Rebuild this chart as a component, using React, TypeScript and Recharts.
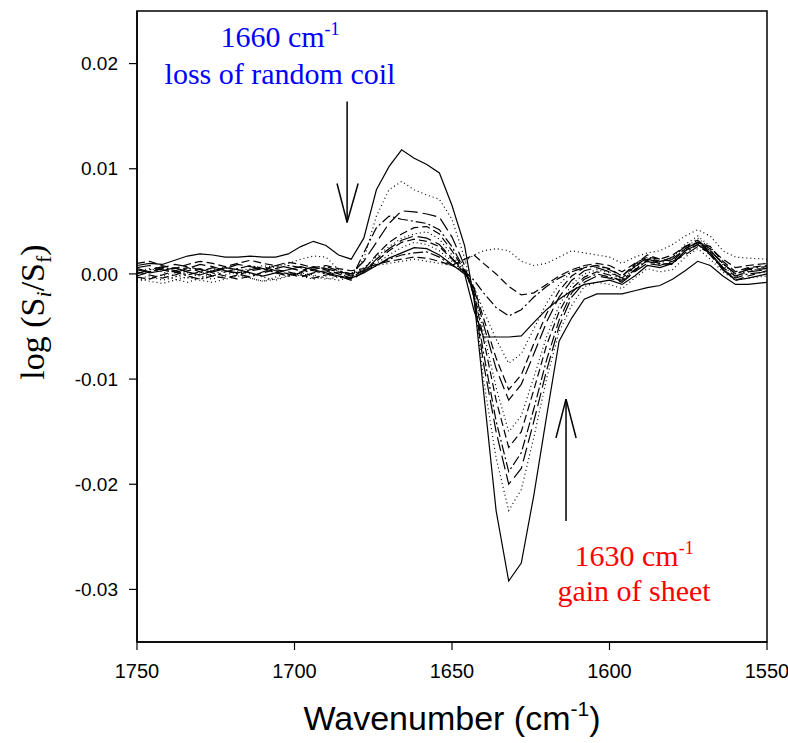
import React from 'react';
import { LineChart, Line, XAxis, YAxis, ReferenceLine, ReferenceArea, ReferenceDot } from 'recharts';

// Wavenumber grid (cm^-1)
const wavenumbers = [
  1750, 1746, 1742, 1738, 1734, 1730, 1726, 1722, 1718, 1714, 1710, 1706, 1702, 1698, 1694, 1690, 1686,
  1682, 1678, 1674, 1670, 1666, 1662, 1658, 1654, 1650, 1646, 1643, 1640, 1636, 1632, 1628, 1624, 1620,
  1616, 1612, 1608, 1604, 1600, 1596, 1592, 1588, 1584, 1580, 1576, 1572, 1568, 1564, 1560, 1556, 1550,
];

const xTicks = [1750, 1700, 1650, 1600, 1550];
const yTicks = [-0.03, -0.02, -0.01, 0, 0.01, 0.02];

const seriesA = [
  0.0008, 0.0010, 0.0009, 0.0013, 0.0017, 0.0019, 0.0018, 0.0016, 0.0016, 0.0017, 0.0016, 0.0016, 0.0019, 0.0026, 0.0031, 0.0027, 0.0018,
  0.0014, 0.0034, 0.0080, 0.0102, 0.0118, 0.0110, 0.0104, 0.0096, 0.0065, 0.0027, -0.0024, -0.0111, -0.0225, -0.0292, -0.0275, -0.0210, -0.0136,
  -0.0064, -0.0042, -0.0024, -0.0019, -0.0019, -0.0019, -0.0016, -0.0013, -0.0011, -0.0005, 0.0003, 0.0012, 0.0008, -0.0002, -0.0010, -0.0010, -0.0008,
];
const seriesB = [
  0.0003, 0.0005, 0.0002, -0.0002, -0.0004, 0.0000, 0.0004, 0.0006, 0.0003, 0.0005, 0.0008, 0.0006, 0.0010, 0.0014, 0.0017, 0.0016, 0.0004,
  -0.0002, 0.0014, 0.0055, 0.0080, 0.0088, 0.0080, 0.0075, 0.0071, 0.0052, 0.0015, -0.0020, -0.0100, -0.0175, -0.0225, -0.0205, -0.0155, -0.0100,
  -0.0055, -0.0030, -0.0012, -0.0008, -0.0010, -0.0014, -0.0004, 0.0005, 0.0002, 0.0004, 0.0016, 0.0024, 0.0014, 0.0002, -0.0006, -0.0004, -0.0002,
];
const seriesC = [
  0.0005, 0.0002, 0.0006, 0.0009, 0.0007, 0.0004, 0.0002, 0.0005, 0.0009, 0.0007, 0.0004, 0.0008, 0.0006, 0.0003, 0.0007, 0.0005, 0.0002,
  0.0000, 0.0012, 0.0030, 0.0048, 0.0060, 0.0059, 0.0057, 0.0054, 0.0035, 0.0008, -0.0022, -0.0085, -0.0150, -0.0200, -0.0185, -0.0140, -0.0092,
  -0.0050, -0.0022, -0.0008, -0.0002, -0.0004, -0.0008, 0.0002, 0.0010, 0.0008, 0.0012, 0.0018, 0.0026, 0.0020, 0.0006, -0.0002, 0.0002, 0.0004,
];
const seriesD = [
  0.0000, 0.0004, 0.0007, 0.0003, -0.0001, 0.0002, 0.0006, 0.0003, 0.0000, -0.0003, 0.0002, 0.0005, 0.0008, 0.0006, 0.0003, 0.0000, -0.0003,
  -0.0005, 0.0020, 0.0044, 0.0055, 0.0052, 0.0050, 0.0048, 0.0042, 0.0026, 0.0004, -0.0020, -0.0075, -0.0140, -0.0188, -0.0170, -0.0128, -0.0082,
  -0.0044, -0.0018, -0.0005, 0.0000, -0.0003, -0.0006, 0.0004, 0.0012, 0.0009, 0.0010, 0.0020, 0.0028, 0.0018, 0.0004, -0.0004, 0.0000, 0.0002,
];
const seriesE = [
  -0.0003, -0.0005, -0.0001, 0.0003, 0.0006, 0.0002, -0.0002, -0.0004, -0.0001, 0.0003, 0.0005, 0.0002, -0.0001, 0.0002, 0.0006, 0.0004, 0.0000,
  -0.0004, 0.0004, 0.0018, 0.0030, 0.0038, 0.0044, 0.0045, 0.0038, 0.0022, 0.0003, -0.0018, -0.0062, -0.0120, -0.0165, -0.0150, -0.0110, -0.0068,
  -0.0036, -0.0014, -0.0003, 0.0002, -0.0001, -0.0008, 0.0003, 0.0013, 0.0010, 0.0009, 0.0022, 0.0030, 0.0020, 0.0006, -0.0006, -0.0002, 0.0003,
];
const seriesF = [
  -0.0005, -0.0002, -0.0006, -0.0003, 0.0001, -0.0002, -0.0005, -0.0001, 0.0002, 0.0000, -0.0003, -0.0006, -0.0002, 0.0001, -0.0001, -0.0004, -0.0006,
  -0.0003, 0.0006, 0.0016, 0.0026, 0.0034, 0.0038, 0.0040, 0.0033, 0.0018, 0.0002, -0.0016, -0.0055, -0.0108, -0.0150, -0.0135, -0.0098, -0.0060,
  -0.0030, -0.0010, 0.0000, 0.0004, 0.0001, -0.0005, 0.0006, 0.0016, 0.0012, 0.0014, 0.0024, 0.0034, 0.0024, 0.0008, -0.0003, 0.0002, 0.0006,
];
const seriesG = [
  0.0006, 0.0008, 0.0004, 0.0001, 0.0005, 0.0009, 0.0007, 0.0003, 0.0001, 0.0004, 0.0007, 0.0003, 0.0000, -0.0003, 0.0001, 0.0003, -0.0002,
  -0.0006, 0.0002, 0.0014, 0.0024, 0.0032, 0.0036, 0.0034, 0.0028, 0.0015, 0.0002, -0.0014, -0.0048, -0.0090, -0.0120, -0.0105, -0.0076, -0.0046,
  -0.0022, -0.0006, 0.0003, 0.0006, 0.0002, -0.0004, 0.0007, 0.0014, 0.0011, 0.0016, 0.0026, 0.0032, 0.0022, 0.0010, 0.0000, 0.0004, 0.0005,
];
const seriesH = [
  0.0002, -0.0001, -0.0004, -0.0001, 0.0003, 0.0005, 0.0001, -0.0002, -0.0005, -0.0002, 0.0001, 0.0004, 0.0002, -0.0001, -0.0004, -0.0001, 0.0002,
  -0.0002, 0.0003, 0.0012, 0.0022, 0.0030, 0.0033, 0.0031, 0.0026, 0.0014, 0.0001, -0.0013, -0.0042, -0.0080, -0.0110, -0.0096, -0.0066, -0.0038,
  -0.0016, -0.0002, 0.0006, 0.0008, 0.0005, -0.0002, 0.0009, 0.0018, 0.0014, 0.0012, 0.0024, 0.0030, 0.0026, 0.0012, 0.0002, 0.0006, 0.0008,
];
const seriesI = [
  -0.0007, -0.0004, -0.0001, -0.0005, -0.0008, -0.0004, 0.0000, 0.0003, 0.0000, -0.0004, -0.0007, -0.0003, 0.0001, -0.0002, -0.0005, -0.0002, 0.0001,
  -0.0001, 0.0004, 0.0010, 0.0018, 0.0025, 0.0030, 0.0028, 0.0022, 0.0012, 0.0001, -0.0012, -0.0035, -0.0062, -0.0085, -0.0076, -0.0052, -0.0028,
  -0.0010, 0.0002, 0.0008, 0.0006, 0.0002, -0.0006, 0.0004, 0.0014, 0.0010, 0.0015, 0.0028, 0.0036, 0.0026, 0.0010, -0.0002, 0.0003, 0.0006,
];
const seriesJ = [
  0.0004, 0.0001, 0.0003, 0.0006, 0.0002, -0.0001, 0.0003, 0.0006, 0.0004, 0.0001, -0.0002, 0.0001, 0.0004, 0.0007, 0.0004, 0.0001, -0.0002,
  -0.0004, 0.0001, 0.0008, 0.0015, 0.0020, 0.0025, 0.0024, 0.0018, 0.0009, 0.0000, -0.0035, -0.0060, -0.0060, -0.0060, -0.0059, -0.0046, -0.0034,
  -0.0024, -0.0016, -0.0010, -0.0008, -0.0006, -0.0010, -0.0002, 0.0008, 0.0006, 0.0010, 0.0022, 0.0028, 0.0020, 0.0004, -0.0006, -0.0004, 0.0000,
];
const seriesK = [
  -0.0002, 0.0002, 0.0005, 0.0002, -0.0002, -0.0005, -0.0002, 0.0002, 0.0005, 0.0008, 0.0005, 0.0001, -0.0002, 0.0001, 0.0004, 0.0007, 0.0003,
  0.0000, 0.0003, 0.0008, 0.0014, 0.0018, 0.0020, 0.0021, 0.0016, 0.0008, 0.0002, -0.0006, -0.0018, -0.0032, -0.0040, -0.0034, -0.0022, -0.0012,
  -0.0004, 0.0002, 0.0006, 0.0008, 0.0004, -0.0002, 0.0008, 0.0015, 0.0012, 0.0014, 0.0024, 0.0030, 0.0022, 0.0010, 0.0000, 0.0005, 0.0007,
];
const seriesL = [
  0.0010, 0.0012, 0.0008, 0.0005, 0.0009, 0.0012, 0.0010, 0.0007, 0.0010, 0.0013, 0.0010, 0.0008, 0.0011, 0.0009, 0.0006, 0.0008, 0.0005,
  0.0003, 0.0005, 0.0009, 0.0012, 0.0014, 0.0016, 0.0015, 0.0012, 0.0008, 0.0014, 0.0018, 0.0010, 0.0000, -0.0012, -0.0020, -0.0018, -0.0010,
  -0.0002, 0.0004, 0.0008, 0.0010, 0.0008, 0.0002, 0.0010, 0.0016, 0.0014, 0.0018, 0.0026, 0.0030, 0.0024, 0.0014, 0.0006, 0.0008, 0.0010,
];
const seriesM = [
  -0.0004, -0.0007, -0.0009, -0.0006, -0.0003, -0.0006, -0.0008, -0.0005, -0.0002, -0.0004, -0.0007, -0.0005, -0.0002, 0.0000, -0.0002, -0.0005, -0.0003,
  0.0000, 0.0004, 0.0008, 0.0010, 0.0012, 0.0014, 0.0012, 0.0010, 0.0008, 0.0012, 0.0018, 0.0022, 0.0024, 0.0022, 0.0012, 0.0008, 0.0010,
  0.0016, 0.0022, 0.0020, 0.0018, 0.0016, 0.0010, 0.0016, 0.0020, 0.0022, 0.0028, 0.0036, 0.0042, 0.0036, 0.0022, 0.0016, 0.0015, 0.0014,
];

const seriesList = [
  { key: 'A', values: seriesA, dash: undefined },
  { key: 'B', values: seriesB, dash: '1 3' },
  { key: 'C', values: seriesC, dash: '14 5' },
  { key: 'D', values: seriesD, dash: '10 3 2 3' },
  { key: 'E', values: seriesE, dash: '8 4' },
  { key: 'F', values: seriesF, dash: '1 3' },
  { key: 'G', values: seriesG, dash: '14 5' },
  { key: 'H', values: seriesH, dash: '8 4' },
  { key: 'I', values: seriesI, dash: '1 3' },
  { key: 'J', values: seriesJ, dash: undefined },
  { key: 'K', values: seriesK, dash: '10 3 2 3' },
  { key: 'L', values: seriesL, dash: '8 4' },
  { key: 'M', values: seriesM, dash: '1 3' },
];

const data = wavenumbers.map((wn, i) => {
  const row: Record<string, number> = { wn };
  seriesList.forEach((s) => {
    row[s.key] = s.values[i];
  });
  return row;
});

// Annotation anchors (data coordinates)
const arrowDown = { x: 1683.3, yFrom: 0.0164, yTo: 0.0049, armL: 1686.5, armR: 1679.8, armY: 0.0086 };
const arrowUp = { x: 1613.8, yFrom: -0.0235, yTo: -0.0119, armL: 1617.0, armR: 1610.6, armY: -0.0156 };
const blueLines = [
  { x: 1704.6, y: 0.0216, text: '1660 cm', sup: '-1' },
  { x: 1704.6, y: 0.0181, text: 'loss of random coil', sup: '' },
];
const redLines = [
  { x: 1592.2, y: -0.0278, text: '1630 cm', sup: '-1' },
  { x: 1592.2, y: -0.0311, text: 'gain of sheet', sup: '' },
];

const SERIF = '"Liberation Serif", "Times New Roman", serif';
const SANS = '"Liberation Sans", Arial, sans-serif';

const makeTextShape = (text: string, sup: string, color: string) => (props: any) => (
  <text x={props.cx} y={props.cy} textAnchor="middle" fontFamily={SERIF} fontSize={30} fill={color}>
    {text}
    {sup ? (
      <tspan dy={-12} fontSize={18}>
        {sup}
      </tspan>
    ) : null}
  </text>
);

const XTitle = () => (
  <text x={452} y={730} textAnchor="middle" fontFamily={SANS} fontSize={34} fill="#000">
    Wavenumber (cm
    <tspan dy={-14} fontSize={21}>
      -1
    </tspan>
    <tspan dy={14}>)</tspan>
  </text>
);

const YTitle = () => (
  <text
    x={44}
    y={312}
    transform="rotate(-90, 44, 312)"
    textAnchor="middle"
    fontFamily={SERIF}
    fontSize={34}
    fill="#000"
  >
    log (S
    <tspan fontSize={22} fontStyle="italic" dy={7}>
      i
    </tspan>
    <tspan dy={-7}>/S</tspan>
    <tspan fontSize={22} dy={7}>
      f
    </tspan>
    <tspan dy={-7}>)</tspan>
  </text>
);

export default function App() {
  return (
    <div style={{ position: 'absolute', left: 0, top: 0, width: 788, height: 743, background: '#fff' }}>
      <LineChart width={788} height={743} data={data} margin={{ top: 11, right: 21, bottom: 0, left: 0 }}>
        <XAxis
          type="number"
          dataKey="wn"
          domain={[1550, 1750]}
          reversed
          ticks={xTicks}
          interval={0}
          allowDataOverflow
          height={101}
          tickSize={8}
          tickMargin={14}
          axisLine={{ stroke: '#000', strokeWidth: 1.5 }}
          tickLine={{ stroke: '#000', strokeWidth: 1.2 }}
          tick={{ fill: '#000', fontSize: 20, fontFamily: SANS }}
          label={<XTitle />}
        />
        <YAxis
          type="number"
          domain={[-0.035, 0.025]}
          ticks={yTicks}
          interval={0}
          allowDataOverflow
          width={137}
          tickSize={8}
          tickMargin={11}
          tickFormatter={(v: number) => v.toFixed(2)}
          axisLine={{ stroke: '#000', strokeWidth: 1.5 }}
          tickLine={{ stroke: '#000', strokeWidth: 1.2 }}
          tick={{ fill: '#000', fontSize: 19, fontFamily: SANS }}
          label={<YTitle />}
        />
        <ReferenceArea
          x1={1750}
          x2={1550}
          y1={-0.035}
          y2={0.025}
          fill="none"
          fillOpacity={0}
          stroke="#000"
          strokeWidth={1.5}
          ifOverflow="visible"
        />
        {seriesList.map((s) => (
          <Line
            key={s.key}
            type="linear"
            dataKey={s.key}
            stroke="#000"
            strokeWidth={1.2}
            strokeDasharray={s.dash}
            dot={false}
            activeDot={false}
            isAnimationActive={false}
          />
        ))}
        <ReferenceLine
          segment={[{ x: arrowDown.x, y: arrowDown.yFrom }, { x: arrowDown.x, y: arrowDown.yTo }]}
          stroke="#000"
          strokeWidth={1.5}
        />
        <ReferenceLine
          segment={[{ x: arrowDown.armL, y: arrowDown.armY }, { x: arrowDown.x, y: arrowDown.yTo }]}
          stroke="#000"
          strokeWidth={1.5}
        />
        <ReferenceLine
          segment={[{ x: arrowDown.armR, y: arrowDown.armY }, { x: arrowDown.x, y: arrowDown.yTo }]}
          stroke="#000"
          strokeWidth={1.5}
        />
        <ReferenceLine
          segment={[{ x: arrowUp.x, y: arrowUp.yFrom }, { x: arrowUp.x, y: arrowUp.yTo }]}
          stroke="#000"
          strokeWidth={1.5}
        />
        <ReferenceLine
          segment={[{ x: arrowUp.armL, y: arrowUp.armY }, { x: arrowUp.x, y: arrowUp.yTo }]}
          stroke="#000"
          strokeWidth={1.5}
        />
        <ReferenceLine
          segment={[{ x: arrowUp.armR, y: arrowUp.armY }, { x: arrowUp.x, y: arrowUp.yTo }]}
          stroke="#000"
          strokeWidth={1.5}
        />
        {blueLines.map((t, i) => (
          <ReferenceDot
            key={'b' + i}
            x={t.x}
            y={t.y}
            r={0}
            ifOverflow="visible"
            shape={makeTextShape(t.text, t.sup, '#0000FF')}
          />
        ))}
        {redLines.map((t, i) => (
          <ReferenceDot
            key={'r' + i}
            x={t.x}
            y={t.y}
            r={0}
            ifOverflow="visible"
            shape={makeTextShape(t.text, t.sup, '#FF0000')}
          />
        ))}
      </LineChart>
    </div>
  );
}
